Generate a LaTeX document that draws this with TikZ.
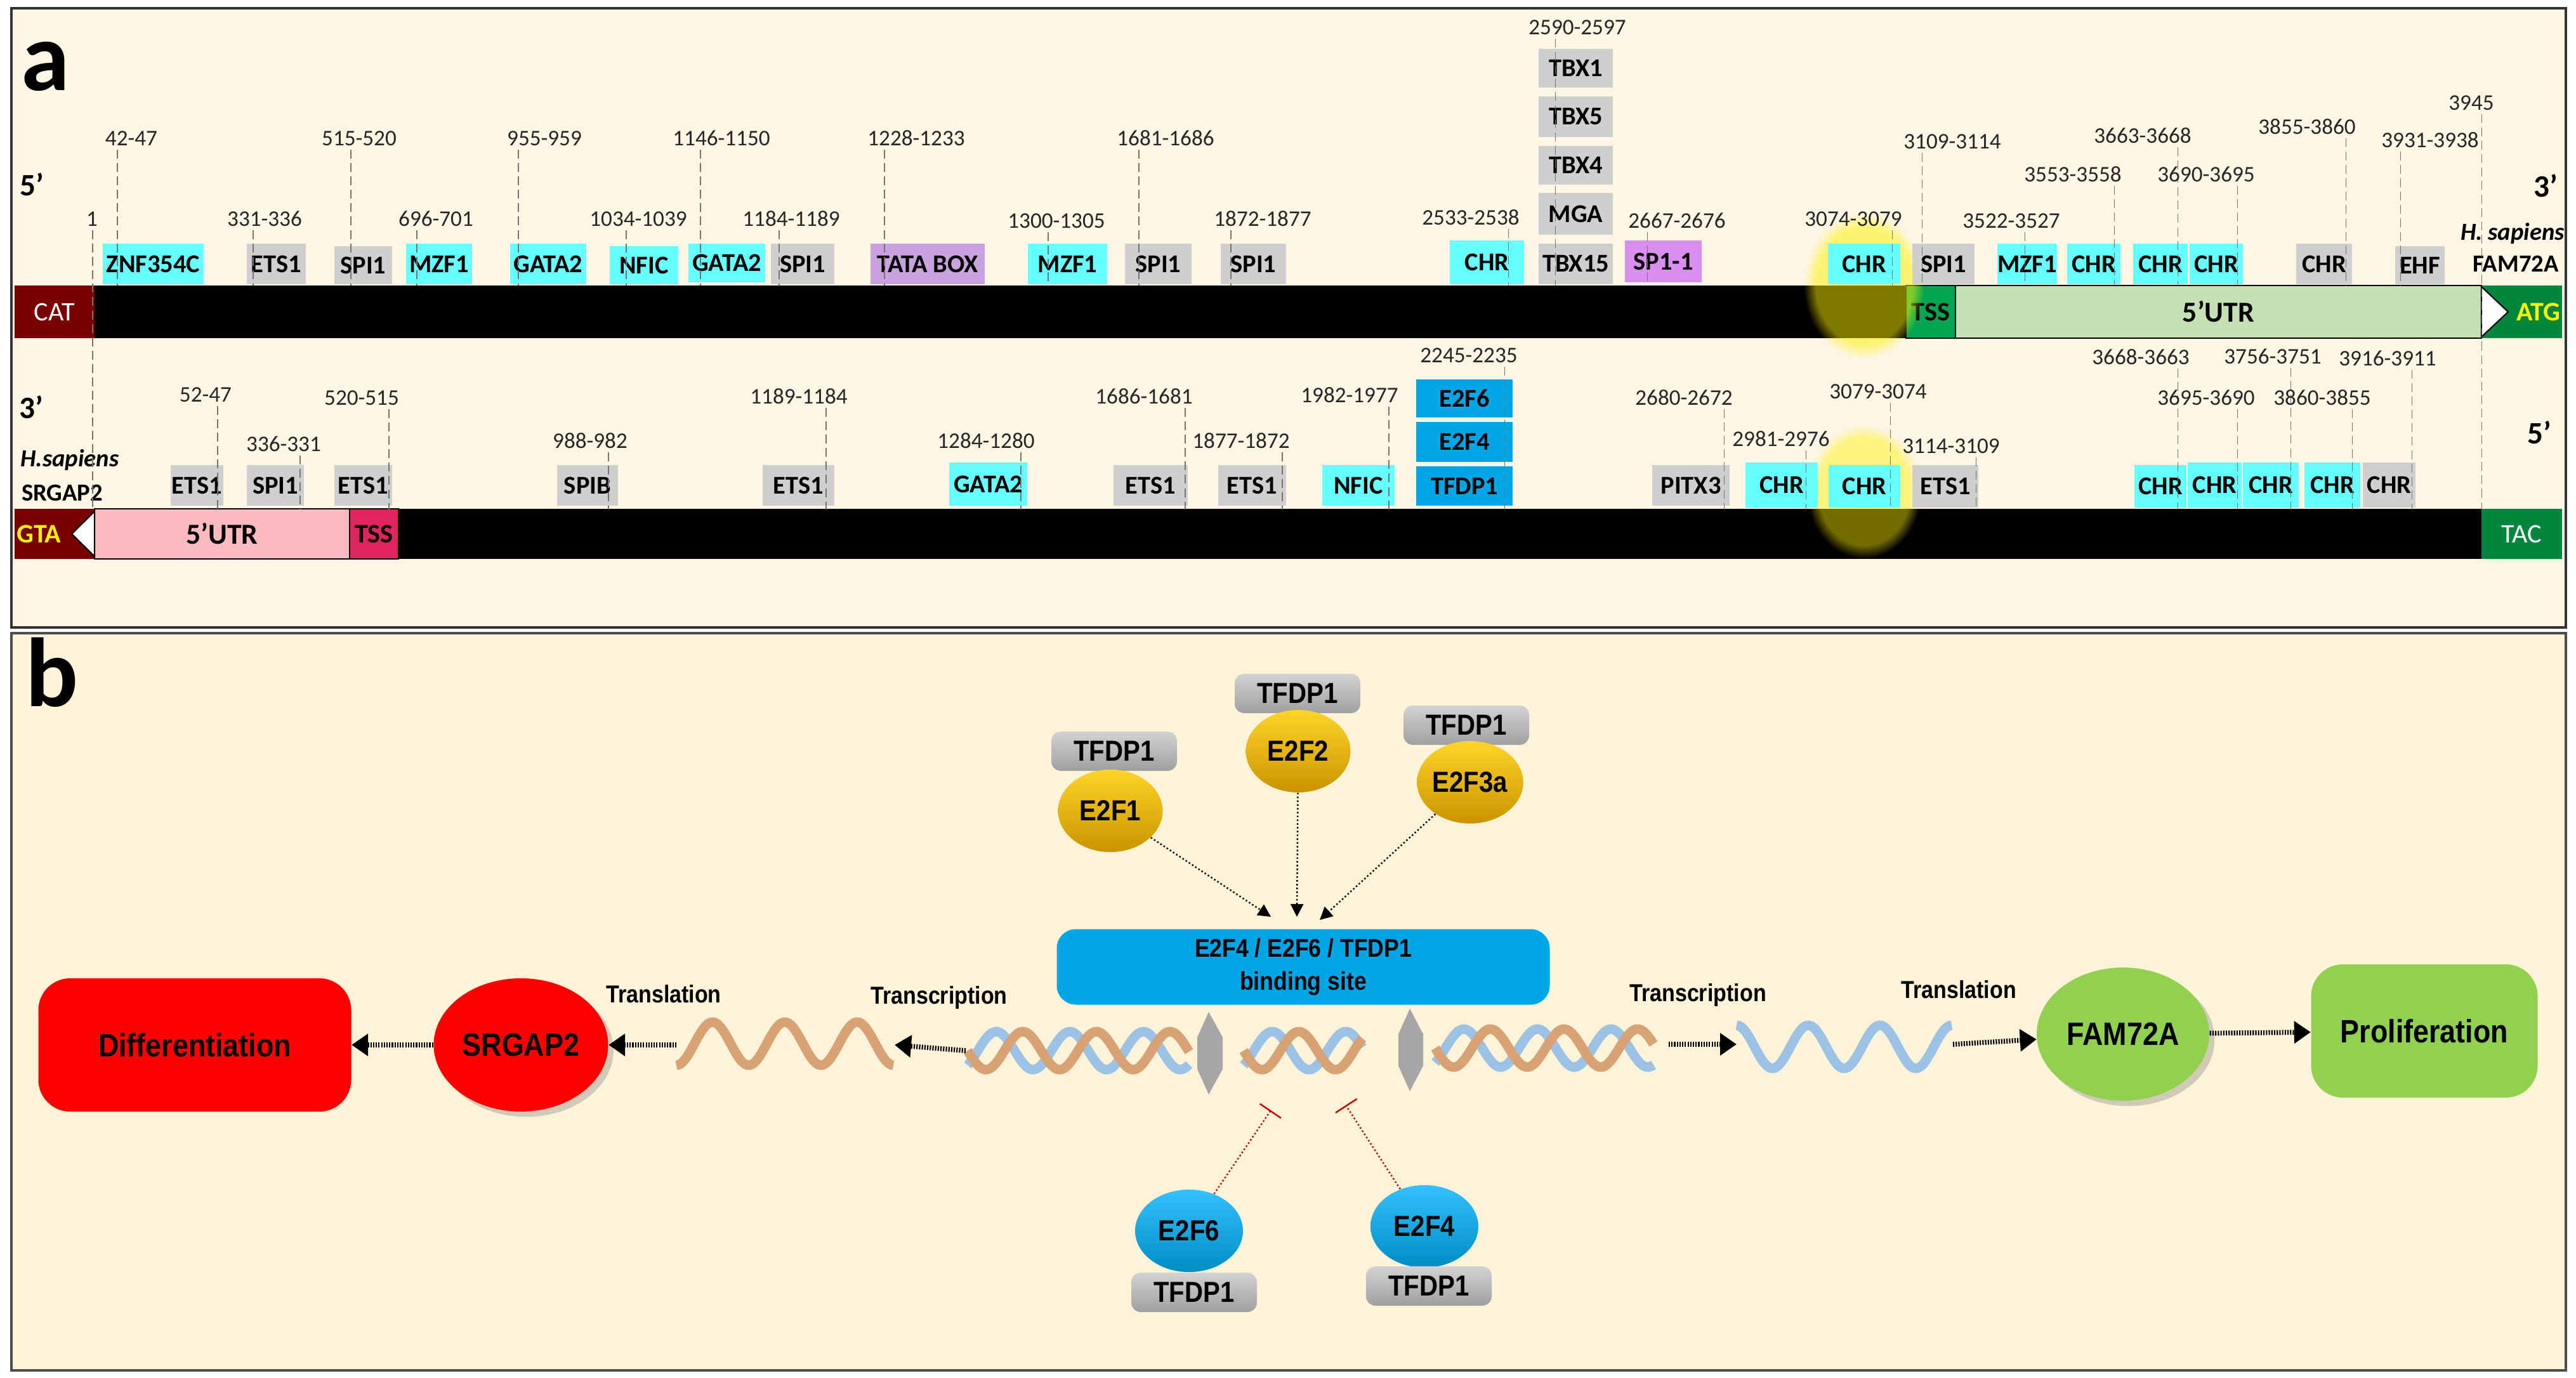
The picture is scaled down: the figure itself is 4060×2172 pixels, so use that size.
\documentclass[tikz,border=0pt]{standalone}
\usepackage{fontspec}
\setmainfont{Carlito}
\newfontfamily\calf{Carlito}
\newfontfamily\narf{Liberation Sans}[FakeStretch=0.88]
\usetikzlibrary{arrows.meta,shapes.geometric,fadings,shadows}
\definecolor{cream}{HTML}{FDF6E4}
\definecolor{creamb}{HTML}{FDF3D9}
\definecolor{cyanb}{HTML}{66FFFF}
\definecolor{grayb}{HTML}{CFCFCF}
\definecolor{tata}{HTML}{C9A3E0}
\definecolor{spone}{HTML}{D98EF0}
\definecolor{blueb}{HTML}{00A6E6}
\definecolor{maroon}{HTML}{7A0000}
\definecolor{tssg}{HTML}{00A651}
\definecolor{utrg}{HTML}{C5E0B4}
\definecolor{atgg}{HTML}{00873D}
\definecolor{pinku}{HTML}{FBB9C0}
\definecolor{tssr}{HTML}{E0245E}
\definecolor{brownh}{HTML}{D9A274}
\definecolor{blueh}{HTML}{9CC2E5}
\definecolor{greenb}{HTML}{92D050}
\definecolor{goldt}{HTML}{FFD428}
\definecolor{goldb}{HTML}{C99400}
\tikzset{
 tfb/.style={inner sep=0pt,draw=none,font=\calf\bfseries\fontsize{11.5}{12}\selectfont},
 num/.style={inner sep=0pt,font=\calf\fontsize{10}{11}\selectfont,text=black!85},
 dl/.style={black!55,line width=0.3pt,dash pattern=on 4pt off 2pt},
 bar/.style={inner sep=0pt,draw=none},
 pb/.style={font=\narf\bfseries},
 darr/.style={line width=2.2pt,dash pattern=on 0.6pt off 0.6pt,-{Triangle[length=2.6mm,width=3.4mm]}},
 sarr/.style={line width=0.7pt,densely dotted,-{Triangle[length=2mm,width=2mm]}},
 inh/.style={line width=0.7pt,densely dotted,red!80!black,-{Bar[width=4mm]}},
 gold/.style={ellipse,top color=goldt,bottom color=goldb,inner sep=0pt,minimum width=16.5mm,minimum height=13mm,font=\narf\bfseries\fontsize{13}{14}\selectfont},
 blu/.style={ellipse,top color=cyan!70!blue!80,bottom color=blueb!85!black,inner sep=0pt,minimum width=17mm,minimum height=13mm,font=\narf\bfseries\fontsize{13}{14}\selectfont},
 tfd/.style={rounded corners=1.5mm,top color=gray!35,bottom color=gray!75,inner sep=0pt,minimum width=19.8mm,minimum height=6.2mm,font=\narf\bfseries\fontsize{13}{14}\selectfont},
}
\newcommand\TFbox[7]{\node[tfb,fill=#6,minimum width={(#4-#2)*0.1mm},minimum height={(#5-#3)*0.1mm}] (#1) at ({(#2+#4)/2},{(#3+#5)/2}) {#7};}
\newcommand\SiteLab[6]{\node[num] (#1) at (#2,#3) {#6}; \draw[dl] (#4,{#3+18}) -- (#4,#5);}
\newcommand\DblHelix[4]{%
 \draw[blueh,line width=1.5mm] plot[domain=#1:#2,samples=90] (\x,{#3+30*sin((\x-#1)/#4*360+130)});
 \draw[brownh,line width=1.5mm] plot[domain=#1:#2,samples=90] (\x,{#3+30*sin((\x-#1)/#4*360)});}
\begin{document}
\begin{tikzpicture}[x=0.1mm,y=-0.1mm]
\useasboundingbox (0,0) rectangle (4060,2172);
\fill[white] (0,0) rectangle (4060,2172);
% frames
\draw[fill=cream,draw=black!80,line width=1.2pt] (18,13) rectangle (4044,989);
\draw[fill=creamb,draw=black!70,line width=1.2pt] (18,998) rectangle (4044,2160);
\node[font=\calf\bfseries\fontsize{44}{44}\selectfont,inner sep=0] (la) at (72,105) {a};
\node[font=\calf\bfseries\fontsize{44}{44}\selectfont,inner sep=0] (lb) at (82,1060) {b};
\node[font=\calf\bfseries\fontsize{14}{14}\selectfont,inner sep=0] (p5a) at (50,291) {5’};
\node[font=\calf\bfseries\fontsize{14}{14}\selectfont,inner sep=0] (p3a) at (4012,293) {3’};
\node[font=\calf\bfseries\fontsize{14}{14}\selectfont,inner sep=0] (p3b) at (49,642) {3’};
\node[font=\calf\bfseries\fontsize{14}{14}\selectfont,inner sep=0] (p5b) at (4002,682) {5’};
\node[font=\calf\bfseries\itshape\fontsize{11}{12}\selectfont,inner sep=0] (hs1) at (3960,368) {H. sapiens};
\node[font=\calf\bfseries\fontsize{11}{12}\selectfont,inner sep=0] (fam) at (3965,416) {FAM72A};
\node[font=\calf\bfseries\itshape\fontsize{11}{12}\selectfont,inner sep=0] (hs2) at (110,725) {H.sapiens};
\node[font=\calf\bfseries\fontsize{11}{12}\selectfont,inner sep=0] (srg) at (98,777) {SRGAP2};
% top bar
\node[bar,fill=maroon,minimum width=12.6mm,minimum height=8.3mm,text=white,font=\calf\fontsize{12}{12}\selectfont] (cat) at (86,491.5) {CAT};
\node[bar,fill=black,minimum width={(3004-149)*0.1mm},minimum height=8.3mm] (tbar) at ({(149+3004)/2},491.5) {};
\node[bar,draw=black,fill=tssg,minimum width=7.8mm,minimum height=8.3mm,font=\calf\bfseries\fontsize{12}{12}\selectfont] (tss1) at (3043,491.5) {TSS};
\node[bar,draw=black,fill=utrg,minimum width={(3911-3082)*0.1mm},minimum height=8.3mm,font=\calf\bfseries\fontsize{13}{13}\selectfont] (utr1) at ({(3082+3911)/2},491.5) {5’UTR};
\node[bar,fill=atgg,minimum width=12.7mm,minimum height=8.3mm] (atg) at (3974.5,491.5) {};
\node[text=yellow,font=\calf\bfseries\fontsize{12}{12}\selectfont,inner sep=0,anchor=east] (atgt) at (4036,491.5) {ATG};
\draw[fill=white,draw=black,line width=0.6pt] (3911,452) -- (3953,491.5) -- (3911,531) -- cycle;
% bottom bar
\node[bar,fill=maroon,minimum width=12.6mm,minimum height=7.9mm] (gta) at (86,841.5) {};
\node[text=yellow,font=\calf\bfseries\fontsize{12}{12}\selectfont,inner sep=0,anchor=west] (gtat) at (26,841.5) {GTA};
\node[bar,draw=black,fill=pinku,minimum width={(551-149)*0.1mm},minimum height=7.9mm,font=\calf\bfseries\fontsize{13}{13}\selectfont] (utr2) at (350,841.5) {5’UTR};
\node[bar,draw=black,fill=tssr,minimum width=7.7mm,minimum height=7.9mm,font=\calf\bfseries\fontsize{12}{12}\selectfont] (tss2) at (589.5,841.5) {TSS};
\node[bar,fill=black,minimum width={(3911-628)*0.1mm},minimum height=7.9mm] (bbar) at ({(628+3911)/2},841.5) {};
\node[bar,fill=atgg,minimum width=12.7mm,minimum height=7.9mm,text=white,font=\calf\fontsize{12}{12}\selectfont] (tac) at (3974.5,841.5) {TAC};
\draw[fill=white,draw=black,line width=0.6pt] (149,806) -- (113,841.5) -- (149,877) -- cycle;
% glows
\fill[yellow,opacity=0.5,path fading=circle with fuzzy edge 20 percent] (2938,450) ellipse (95 and 115);
\fill[yellow,opacity=0.45,path fading=circle with fuzzy edge 20 percent] (2938,775) ellipse (90 and 105);
% top boxes
\TFbox{t1}{162}{384}{321}{448}{cyanb}{ZNF354C}
\TFbox{t2}{389}{384}{482}{448}{grayb}{ETS1}
\TFbox{t3}{527}{388}{618}{448}{grayb}{SPI1}
\TFbox{t4}{640}{384}{744}{448}{cyanb}{MZF1}
\TFbox{t5}{804}{384}{924}{448}{cyanb}{GATA2}
\TFbox{t6}{961}{388}{1069}{448}{cyanb}{NFIC}
\TFbox{t7}{1085}{384}{1206}{445}{cyanb}{GATA2}
\TFbox{t8}{1215}{384}{1315}{448}{grayb}{SPI1}
\TFbox{t9}{1372}{384}{1552}{448}{tata}{TATA BOX}
\TFbox{t10}{1620}{384}{1745}{448}{cyanb}{MZF1}
\TFbox{t11}{1773}{384}{1878}{448}{grayb}{SPI1}
\TFbox{t12}{1924}{384}{2027}{448}{grayb}{SPI1}
\TFbox{t13}{2285}{379}{2402}{448}{cyanb}{CHR}
\TFbox{t14}{2425}{384}{2542}{448}{grayb}{TBX15}
\TFbox{t14a}{2425}{304}{2542}{370}{grayb}{MGA}
\TFbox{t14b}{2425}{230}{2542}{291}{grayb}{TBX4}
\TFbox{t14c}{2425}{152}{2542}{216}{grayb}{TBX5}
\TFbox{t14d}{2425}{77}{2542}{138}{grayb}{TBX1}
\TFbox{t15}{2561}{379}{2682}{445}{spone}{SP1-1}
\TFbox{t16}{2881}{384}{2995}{448}{cyanb}{CHR}
\TFbox{t17}{3014}{384}{3112}{448}{grayb}{SPI1}
\TFbox{t18}{3149}{384}{3241}{448}{cyanb}{MZF1}
\TFbox{t19}{3258}{384}{3342}{448}{cyanb}{CHR}
\TFbox{t20}{3362}{384}{3448}{448}{cyanb}{CHR}
\TFbox{t21}{3451}{384}{3535}{448}{cyanb}{CHR}
\TFbox{t22}{3619}{384}{3707}{448}{grayb}{CHR}
\TFbox{t23}{3775}{388}{3853}{448}{grayb}{EHF}
% bottom boxes
\TFbox{b1}{269}{733}{352}{797}{grayb}{ETS1}
\TFbox{b2}{389}{733}{479}{797}{grayb}{SPI1}
\TFbox{b3}{527}{733}{618}{797}{grayb}{ETS1}
\TFbox{b4}{878}{733}{974}{797}{grayb}{SPIB}
\TFbox{b5}{1202}{733}{1315}{797}{grayb}{ETS1}
\TFbox{b6}{1496}{729}{1619}{797}{cyanb}{GATA2}
\TFbox{b7}{1755}{733}{1872}{797}{grayb}{ETS1}
\TFbox{b8}{1920}{733}{2027}{797}{grayb}{ETS1}
\TFbox{b9}{2084}{733}{2198}{797}{cyanb}{NFIC}
\TFbox{b10}{2232}{735}{2384}{797}{blueb}{TFDP1}
\TFbox{b10a}{2232}{665}{2384}{728}{blueb}{E2F4}
\TFbox{b10b}{2232}{598}{2384}{658}{blueb}{E2F6}
\TFbox{b11}{2604}{733}{2726}{797}{grayb}{PITX3}
\TFbox{b12}{2751}{729}{2865}{800}{cyanb}{CHR}
\TFbox{b13}{2882}{733}{2995}{800}{cyanb}{CHR}
\TFbox{b14}{3014}{733}{3118}{800}{grayb}{ETS1}
\TFbox{b15}{3364}{733}{3446}{800}{cyanb}{CHR}
\TFbox{b16}{3448}{729}{3533}{800}{cyanb}{CHR}
\TFbox{b17}{3535}{729}{3623}{800}{cyanb}{CHR}
\TFbox{b18}{3632}{729}{3720}{800}{cyanb}{CHR}
\TFbox{b19}{3724}{729}{3807}{800}{grayb}{CHR}
% top labels
\SiteLab{n1}{207}{218}{185}{450}{42-47}
\SiteLab{n2}{566}{218}{553}{450}{515-520}
\SiteLab{n3}{858}{218}{817}{450}{955-959}
\SiteLab{n4}{1137}{218}{1104}{450}{1146-1150}
\SiteLab{n5}{1444}{218}{1394}{450}{1228-1233}
\SiteLab{n6}{1837}{218}{1795}{450}{1681-1686}
\SiteLab{n7}{145}{345}{146}{803}{1}
\SiteLab{n8}{417}{345}{399}{450}{331-336}
\SiteLab{n9}{687}{345}{657}{450}{696-701}
\SiteLab{n10}{1006}{345}{987}{450}{1034-1039}
\SiteLab{n11}{1247}{345}{1228}{450}{1184-1189}
\SiteLab{n12}{1665}{348}{1652}{450}{1300-1305}
\SiteLab{n13}{1990}{345}{1940}{450}{1872-1877}
\SiteLab{n14}{2318}{343}{2377}{450}{2533-2538}
\SiteLab{n15}{2486}{43}{2451}{450}{2590-2597}
\SiteLab{n16}{2643}{348}{2596}{450}{2667-2676}
\SiteLab{n17}{2921}{345}{2982}{450}{3074-3079}
\SiteLab{n18}{3077}{223}{3029}{450}{3109-3114}
\SiteLab{n19}{3170}{348}{3191}{450}{3522-3527}
\SiteLab{n20}{3267}{275}{3332}{450}{3553-3558}
\SiteLab{n21}{3377}{214}{3432}{450}{3663-3668}
\SiteLab{n22}{3477}{275}{3526}{450}{3690-3695}
\SiteLab{n23}{3636}{200}{3697}{450}{3855-3860}
\SiteLab{n24}{3830}{221}{3783}{450}{3931-3938}
\SiteLab{n25}{3895}{162}{3911}{803}{3945}
% bottom labels
\SiteLab{m1}{324}{622}{343}{803}{52-47}
\SiteLab{m2}{570}{627}{613}{803}{520-515}
\SiteLab{m3}{447}{700}{473}{803}{336-331}
\SiteLab{m4}{930}{695}{959}{803}{988-982}
\SiteLab{m5}{1259}{625}{1302}{803}{1189-1184}
\SiteLab{m6}{1554}{695}{1609}{803}{1284-1280}
\SiteLab{m7}{1803}{625}{1868}{803}{1686-1681}
\SiteLab{m8}{1956}{695}{2021}{803}{1877-1872}
\SiteLab{m9}{2127}{623}{2189}{803}{1982-1977}
\SiteLab{m10}{2315}{560}{2371}{803}{2245-2235}
\SiteLab{m11}{2654}{627}{2717}{803}{2680-2672}
\SiteLab{m12}{2807}{692}{2846}{803}{2981-2976}
\SiteLab{m13}{2960}{617}{2979}{803}{3079-3074}
\SiteLab{m14}{3075}{703}{3114}{803}{3114-3109}
\SiteLab{m15}{3374}{563}{3432}{803}{3668-3663}
\SiteLab{m16}{3477}{627}{3526}{803}{3695-3690}
\SiteLab{m17}{3582}{562}{3610}{803}{3756-3751}
\SiteLab{m18}{3660}{627}{3707}{803}{3860-3855}
\SiteLab{m19}{3763}{565}{3801}{803}{3916-3911}
% ===== panel b =====
\node[fill=red,rounded corners=5mm,minimum width=49.3mm,minimum height=21mm,inner sep=0,font=\narf\bfseries\fontsize{14.5}{15}\selectfont] (diff) at (307,1647) {Differentiation};
\node[ellipse,fill=red,minimum width=27.5mm,minimum height=21mm,inner sep=0,drop shadow={opacity=0.35},font=\narf\bfseries\fontsize{14.5}{15}\selectfont] (srgap) at (821,1647) {SRGAP2};
\node[ellipse,fill=greenb,minimum width=27.2mm,minimum height=21mm,inner sep=0,drop shadow={opacity=0.35},font=\narf\bfseries\fontsize{14.5}{15}\selectfont] (famb) at (3346,1630) {FAM72A};
\node[fill=greenb,rounded corners=5mm,minimum width=35.7mm,minimum height=21mm,inner sep=0,font=\narf\bfseries\fontsize{14.5}{15}\selectfont] (prol) at (3821,1625) {Proliferation};
\node[fill=blueb,rounded corners=3mm,minimum width=77.7mm,minimum height=11.9mm,inner sep=0,align=center,font=\narf\bfseries\fontsize{11.5}{15}\selectfont] (bind) at (2054,1524) {E2F4 / E2F6 / TFDP1\\binding site};
% helices
\DblHelix{1525}{1874}{1656}{116}
\DblHelix{1960}{2147}{1656}{116}
\DblHelix{2262}{2606}{1652}{116}
\draw[brownh,line width=1.5mm] plot[domain=1066:1408,samples=90] (\x,{1645+34*cos((\x-1066)/114*360)});
\draw[blueh,line width=1.5mm] plot[domain=2737:3076,samples=90] (\x,{1650-34*cos((\x-2737)/113*360)});
\coordinate (mrnaL) at (1066,1647); \coordinate (mrnaLr) at (1410,1647);
\coordinate (mrnaR) at (2737,1646); \coordinate (mrnaRr) at (3078,1646);
\coordinate (dnaL) at (1522,1656); \coordinate (dnaR) at (2630,1646);
% gray direction arrows
\fill[gray!70] (1905,1595) -- (1927,1635) -- (1927,1685) -- (1905,1725) -- (1887,1685) -- (1887,1635) -- cycle;
\fill[gray!70] (2222,1590) -- (2243,1630) -- (2243,1680) -- (2222,1720) -- (2204,1680) -- (2204,1630) -- cycle;
% labels
\node[pb,font=\narf\bfseries\fontsize{11}{12}\selectfont] (trl1) at (1046,1567) {Translation};
\node[pb,font=\narf\bfseries\fontsize{11}{12}\selectfont] (trc1) at (1480,1572) {Transcription};
\node[pb,font=\narf\bfseries\fontsize{11}{12}\selectfont] (trc2) at (2676,1568) {Transcription};
\node[pb,font=\narf\bfseries\fontsize{11}{12}\selectfont] (trl2) at (3087,1560) {Translation};
% arrows
\draw[darr] (dnaL) -- (mrnaLr);
\draw[darr] (mrnaL) -- (srgap);
\draw[darr] (srgap) -- (diff);
\draw[darr] (dnaR) -- (mrnaR);
\draw[darr] (mrnaRr) -- (famb);
\draw[darr] (famb) -- (prol);
% activators
\node[tfd] (d1) at (1756,1184) {TFDP1};
\node[gold] (e1) at (1750,1278) {E2F1};
\node[tfd] (d2) at (2045,1093) {TFDP1};
\node[gold] (e2) at (2046,1184) {E2F2};
\node[tfd] (d3) at (2311,1143) {TFDP1};
\node[gold] (e3) at (2317,1233) {E2F3a};
\coordinate (t1a) at (2003,1445); \coordinate (t2a) at (2044,1445); \coordinate (t3a) at (2080,1450);
\draw[sarr] (e1) -- (t1a);
\draw[sarr] (e2) -- (t2a);
\draw[sarr] (e3) -- (t3a);
% repressors
\node[blu] (e6) at (1874,1940) {E2F6};
\node[tfd] (d6) at (1882,2037) {TFDP1};
\node[blu] (e4) at (2245,1933) {E2F4};
\node[tfd] (d4) at (2252,2027) {TFDP1};
\coordinate (r6) at (2003,1750); \coordinate (r4) at (2121,1742);
\draw[inh] (e6) -- (r6);
\draw[inh] (e4) -- (r4);
\end{tikzpicture}
\end{document}
